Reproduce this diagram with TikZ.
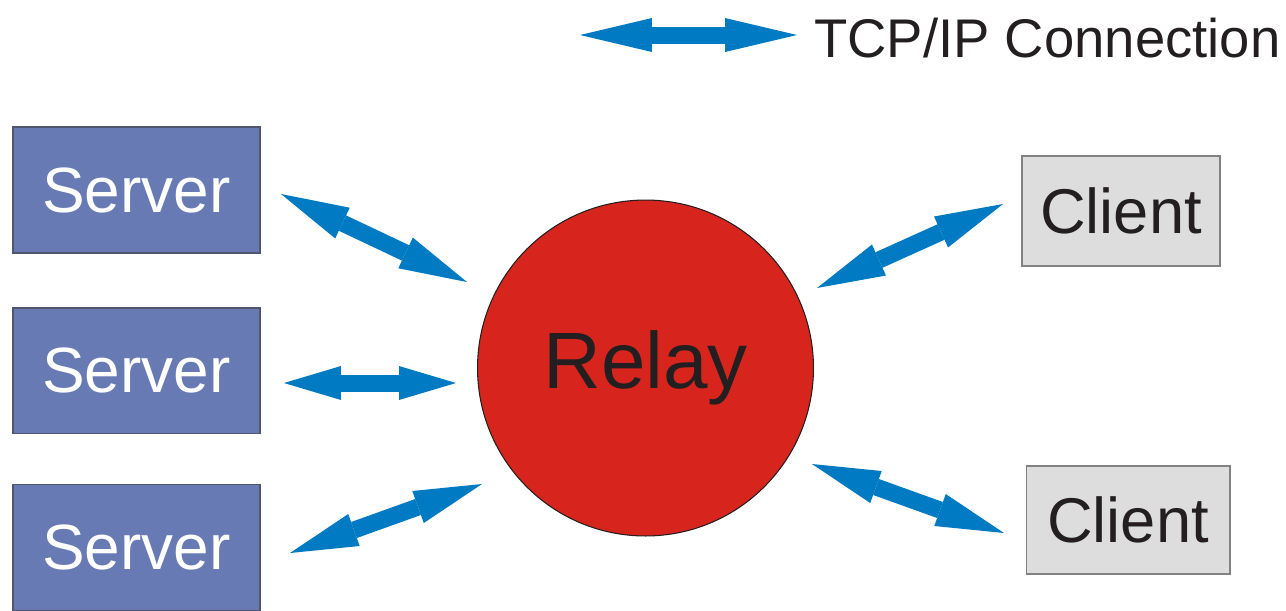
\documentclass[tikz,border=0pt]{standalone}
\usepackage{fontspec}
\setmainfont{Liberation Sans}
\usetikzlibrary{positioning, arrows.meta}

\definecolor{srvfill}{RGB}{103,122,180}
\definecolor{srvline}{RGB}{80,86,110}
\definecolor{clifill}{RGB}{221,221,221}
\definecolor{cliline}{RGB}{130,130,130}
\definecolor{relayred}{RGB}{215,37,30}
\definecolor{tcpblue}{RGB}{0,122,194}
\definecolor{ink}{RGB}{35,31,32}

\begin{document}
\begin{tikzpicture}[x=0.02cm, y=-0.02cm, node distance=1.06cm,
    server/.style={draw=srvline, line width=0.6pt, fill=srvfill, text=white,
        minimum width=4.94cm, minimum height=2.52cm, inner sep=0pt, outer sep=0pt,
        font=\fontsize{36.4}{40}\selectfont},
    client/.style={draw=cliline, line width=0.6pt, fill=clifill, text=ink,
        inner sep=0pt, outer sep=0pt, font=\fontsize{36}{40}\selectfont},
    tcp/.style={draw=tcpblue, line width=0.34cm,
        {Triangle[length=#1, width=0.68cm, line width=0pt]}-{Triangle[length=#1, width=0.68cm, line width=0pt]}},
    tcp/.default=1.36cm]
            \useasboundingbox (0,0) rectangle (1286,610);

            \node (S1) [server] at (136.5,190) {Server};
            \node (S2) [server, below=1.1cm of S1] {Server};
            \node (S3) [server, below=1.02cm of S2] {Server};
            \node (R) [circle, draw=ink, line width=0.6pt, fill=relayred, text=ink,
                minimum size=6.72cm, font=\fontsize{45.5}{50}\selectfont] at (645.5,368) {Relay};
            \node (C1) [client, minimum width=3.96cm, minimum height=2.2cm] at (1121,211) {Client};
            \node (C2) [client, minimum width=4.08cm, minimum height=2.16cm] at (1128,520) {Client};

            % legend
            \coordinate (L1) at (580,35);
            \coordinate (L2) at (797,35);
            \node (key) [anchor=base west, inner sep=0pt, text=ink,
                font=\fontsize{31}{36}\selectfont] at (814,57) {TCP/IP Connection};
            \draw[tcp=1.44cm] (L1) -- (L2);

            % connection ends
            \coordinate (s1) at (281,194);
            \coordinate (r1) at (467,282);
            \coordinate (s2) at (284,383);
            \coordinate (r2) at (456,383);
            \coordinate (s3) at (290,553);
            \coordinate (r3) at (482,484);
            \coordinate (r4) at (817,288);
            \coordinate (c1) at (1003,204);
            \coordinate (r5) at (812,464);
            \coordinate (c2) at (1004,533);

            \draw[tcp] (s1) -- (r1);
            \draw[tcp=1.14cm] (s2) -- (r2);
            \draw[tcp] (s3) -- (r3);
            \draw[tcp] (r4) -- (c1);
            \draw[tcp] (r5) -- (c2);

            \end{tikzpicture}
\end{document}
